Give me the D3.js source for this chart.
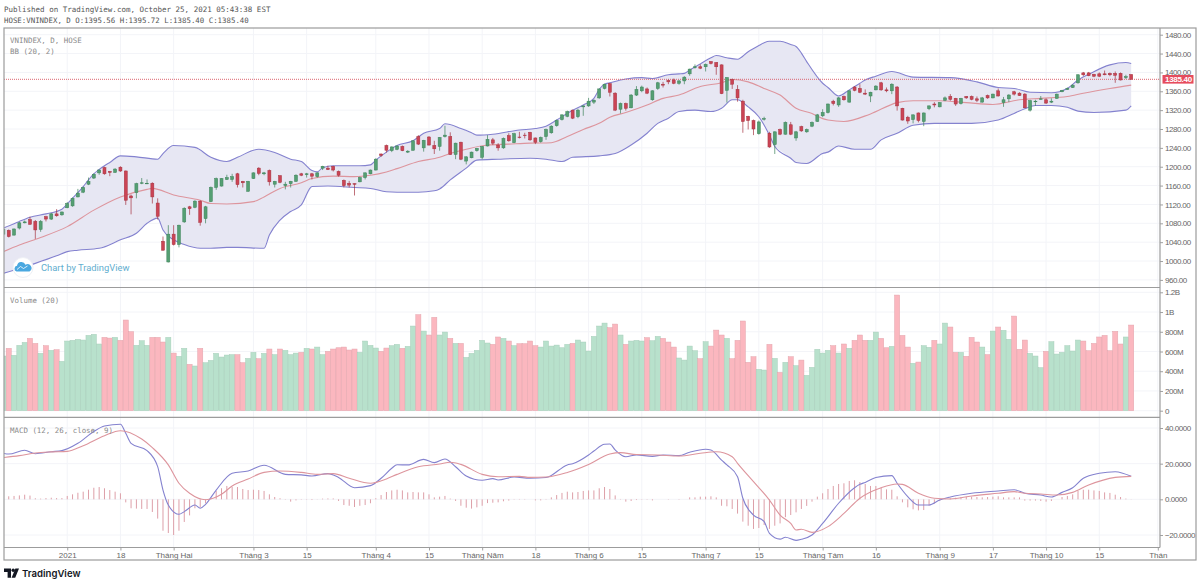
<!DOCTYPE html>
<html>
<head>
<meta charset="utf-8">
<title>VNINDEX</title>
<script src="https://cdn.jsdelivr.net/npm/d3@7"></script>
<style>
html, body { margin: 0; padding: 0; background: #fff; }
svg { display: block; }
.head { font-family: "DejaVu Sans Mono", monospace; fill: #555; }
.legend { font-family: "DejaVu Sans Mono", monospace; font-size: 7.45px; fill: #8a8a8a; }
.axis text { font-family: "Liberation Sans", sans-serif; font-size: 8px; fill: #666; letter-spacing: -0.45px; }
.timeAxis text { letter-spacing: 0; }
.axis path, .axis line { stroke: #a0a0a0; }
</style>
</head>
<body>
<div id="chart"></div>
<script>
// Global variables

var width = 1200, height = 584;

// one row per session: open, high, low, close
var candles = [
[1057,1069,1055,1067],[1065,1067,1050,1052],[1055,1069,1054,1068],[1070,1083,1067,1081],[1081,1086,1080,1083],
[1088,1094,1077,1078],[1084,1087,1047,1066],[1067,1087,1062,1084],[1094,1096,1084,1089],[1089,1102,1087,1100],
[1100,1110,1094,1096],[1098,1105,1096,1104],[1113,1125,1112,1122],[1117,1135,1115,1133],[1136,1153,1135,1144],
[1146,1158,1144,1156],[1163,1177,1161,1169],[1176,1186,1174,1184],[1187,1194,1183,1193],[1198,1200,1183,1185],
[1190,1191,1180,1188],[1188,1197,1187,1195],[1199,1201,1189,1191],[1191,1192,1119,1129],[1138,1141,1099,1134],
[1145,1166,1133,1164],[1165,1176,1163,1166],[1164,1173,1163,1165],[1165,1167,1122,1136],[1123,1133,1088,1095],
[1042,1052,1022,1023],[998,1076,997,1057],[1057,1076,1033,1035],[1035,1077,1029,1076],[1083,1114,1081,1112],
[1115,1117,1098,1111],[1114,1129,1112,1127],[1127,1129,1075,1082],[1090,1117,1080,1115],[1126,1158,1125,1156],
[1156,1177,1151,1175],[1159,1176,1158,1175],[1173,1183,1172,1177],[1173,1185,1168,1179],[1185,1187,1156,1162],
[1169,1170,1156,1166],[1148,1170,1147,1169],[1175,1188,1174,1187],[1197,1199,1182,1186],[1185,1189,1182,1187],
[1192,1194,1160,1168],[1163,1170,1156,1169],[1181,1182,1165,1167],[1160,1168,1152,1163],[1164,1170,1156,1169],
[1169,1184,1168,1182],[1185,1187,1180,1182],[1183,1187,1177,1185],[1185,1187,1173,1180],[1179,1188,1177,1187],
[1197,1202,1193,1201],[1197,1202,1193,1194],[1201,1202,1190,1193],[1190,1192,1179,1182],[1171,1173,1156,1160],
[1165,1170,1156,1161],[1164,1165,1139,1163],[1168,1179,1167,1177],[1177,1188,1173,1187],[1185,1194,1184,1193],
[1193,1218,1192,1216],[1227,1228,1221,1224],[1245,1247,1230,1235],[1234,1243,1231,1242],[1237,1245,1235,1244],
[1243,1245,1233,1234],[1231,1235,1229,1233],[1235,1256,1234,1255],[1264,1267,1246,1248],[1240,1257,1232,1256],
[1263,1265,1245,1246],[1245,1255,1227,1238],[1243,1263,1234,1262],[1264,1287,1262,1267],[1264,1273,1225,1226],
[1226,1251,1216,1250],[1252,1253,1214,1216],[1212,1222,1205,1221],[1219,1232,1218,1231],[1234,1240,1232,1239],
[1220,1244,1216,1243],[1244,1267,1243,1258],[1257,1261,1246,1250],[1246,1250,1234,1240],[1240,1262,1238,1260],
[1266,1271,1253,1255],[1251,1272,1250,1270],[1263,1274,1260,1262],[1267,1272,1260,1266],[1273,1274,1255,1257],
[1261,1262,1248,1252],[1253,1264,1251,1262],[1264,1281,1257,1279],[1272,1288,1270,1286],[1287,1300,1285,1298],
[1300,1311,1298,1310],[1307,1319,1305,1317],[1320,1321,1301,1303],[1306,1323,1303,1320],[1327,1330,1308,1329],
[1329,1346,1327,1339],[1337,1343,1333,1341],[1346,1366,1344,1365],[1366,1376,1364,1375],[1376,1378,1349,1358],
[1356,1358,1318,1320],[1322,1336,1313,1334],[1334,1336,1319,1324],[1325,1354,1324,1352],[1352,1371,1350,1364],
[1361,1372,1358,1369],[1365,1368,1354,1356],[1342,1362,1340,1361],[1366,1380,1363,1378],[1375,1380,1368,1373],
[1383,1385,1375,1380],[1384,1387,1375,1377],[1377,1384,1374,1382],[1382,1392,1375,1390],[1397,1408,1393,1407],
[1410,1417,1408,1412],[1412,1417,1407,1409],[1412,1419,1402,1417],[1423,1424,1417,1419],[1421,1422,1395,1412],
[1416,1417,1354,1355],[1362,1390,1336,1389],[1385,1387,1365,1375],[1364,1373,1338,1346],[1339,1342,1272,1296],
[1307,1308,1279,1298],[1298,1300,1267,1280],[1270,1298,1268,1295],[1301,1306,1298,1302],[1271,1274,1240,1242],
[1247,1275,1227,1274],[1279,1281,1267,1269],[1269,1296,1268,1294],[1289,1295,1267,1269],[1261,1276,1255,1274],
[1285,1287,1274,1276],[1274,1281,1272,1279],[1286,1296,1284,1294],[1296,1312,1295,1310],[1308,1322,1305,1315],
[1315,1334,1313,1333],[1339,1342,1330,1334],[1331,1348,1327,1346],[1349,1351,1340,1342],[1337,1362,1336,1361],
[1369,1371,1360,1362],[1366,1375,1356,1358],[1356,1364,1352,1354],[1350,1359,1337,1358],[1363,1373,1362,1371],
[1378,1380,1361,1363],[1363,1368,1358,1361],[1361,1377,1354,1375],[1369,1371,1319,1329],[1324,1325,1298,1299],
[1305,1308,1291,1297],[1300,1311,1292,1310],[1314,1315,1294,1298],[1296,1315,1286,1314],[1323,1330,1320,1329],
[1333,1337,1326,1331],[1327,1337,1326,1336],[1341,1349,1339,1346],[1349,1354,1340,1343],[1345,1346,1329,1333],
[1334,1346,1332,1345],[1349,1350,1344,1346],[1349,1351,1341,1343],[1344,1349,1337,1341],[1337,1348,1336,1346],
[1351,1353,1344,1346],[1346,1355,1345,1354],[1361,1366,1349,1350],[1336,1348,1327,1342],[1344,1354,1337,1352],
[1359,1361,1351,1354],[1356,1358,1350,1351],[1354,1356,1324,1325],[1320,1342,1317,1340],[1338,1342,1329,1339],
[1343,1350,1342,1344],[1342,1345,1333,1335],[1337,1345,1335,1339],[1345,1355,1344,1354],[1359,1363,1358,1362],
[1364,1368,1363,1366],[1368,1375,1367,1373],[1378,1396,1376,1395],[1399,1401,1392,1395],[1399,1401,1392,1393],
[1396,1397,1390,1392],[1397,1400,1390,1392],[1397,1404,1394,1395],[1398,1400,1392,1395],[1398,1402,1378,1394],
[1398,1400,1383,1384],[1389,1395,1386,1391],[1395.56,1395.72,1385.40,1385.40]
];

// millions of shares, one per session
var volumes = [
554,632,561,662,692,733,682,581,659,611,618,500,706,713,723,716,763,774,676,743,
736,743,713,919,801,662,709,662,743,743,696,743,584,551,632,470,453,632,486,510,
581,544,564,568,568,486,530,591,527,581,625,568,625,611,568,584,591,632,625,645,
568,601,625,638,645,615,625,591,706,662,635,601,635,659,672,632,652,858,973,807,
767,946,767,797,733,682,682,540,581,611,713,686,672,747,733,706,659,679,679,706,
659,645,706,655,665,638,672,682,716,696,605,753,858,888,841,878,767,672,706,713,
706,740,709,753,733,696,645,534,513,655,608,527,699,655,817,767,733,527,713,909,
490,547,419,412,672,530,388,490,547,456,513,358,439,622,584,611,659,584,676,632,
713,767,713,713,797,733,638,652,1172,763,645,480,493,659,642,713,676,888,848,591,
591,551,743,696,645,568,807,848,814,723,959,622,716,581,554,436,601,699,574,591,
659,605,716,706,608,682,747,763,608,804,676,747,868
];

var macdHist = [
0,1.7,1.9,2.2,2.6,2.1,0.6,0.4,0.7,0.9,0.7,0.7,1.9,2.8,3.7,4.3,5.4,6.5,6.9,6.2,
5.2,4.3,3.4,-1.7,-5,-5.2,-5.4,-5.4,-7.1,-10.8,-17.6,-18.9,-20,-17.6,-12.7,-9,-5,-4.5,-2.2,0.6,
4.7,6.2,7.5,6.9,6.9,5.8,5.2,5.4,5.2,4.7,2.8,1.3,0.6,-0.2,-1.3,-0.6,-0.2,-0.2,-0.4,0.1,
0.4,0.5,0.5,-0.9,-3.2,-3.6,-4.3,-3.6,-3.2,-2.2,0.6,2.4,4.1,5,5.4,5,3.9,4.1,3.9,3.9,
2.8,1.1,1.5,1.9,0.4,-0.9,-3.6,-4.7,-5.2,-4.5,-3.6,-2.1,-1.9,-1.7,-1.1,-0.7,0.2,0.2,0.2,0,
-0.6,-0.6,0.2,1.1,2.4,3.6,4.3,3.9,4.1,4.7,5,5,6.2,6.9,5.8,2.2,0.2,-1.3,-0.9,-0.4,
-0.2,-0.2,-0.6,0,0,-0.2,0,-0.2,0,1.1,1.1,1.5,1.5,1.7,1.1,-3.6,-3.9,-5.4,-8,-12.5,
-14.8,-16.6,-16.1,-14.4,-16.6,-14.8,-13.5,-10,-8.8,-7.3,-5.4,-3.7,-1.3,1.5,3.4,5.8,7.5,8.6,9,10.3,
10.7,9.7,8.6,7.5,7.5,6.5,5.6,5.4,1.7,-1.7,-4.5,-5.6,-6.2,-6,-3.6,-2.4,-0.9,0.2,0.6,0.9,
1.3,1.5,1.5,1.3,1.1,1.3,1.5,1.7,1.1,1.1,1.1,1.1,-0.7,-0.7,-0.7,-0.9,-1.3,-0.9,0,1.3,
1.9,2.8,4.7,5.4,5.4,5,4.7,3.9,3.6,2.6,1.3,0.4,0.1
];

// line series as [session, value]
var bbUpper = [
[0,1070],[2,1079],[3,1084],[5,1093],[8,1100],[11,1110],[12,1121],[13,1133],[14,1145],[15,1158],[16,1172],[17,1185],[18,1194],[19,1202],[20,1209],[22,1223],
[25,1221],[29,1216],[30,1228],[32,1245],[36,1241],[39,1220],[42,1211],[44,1220],[48,1237],[51,1230],[54,1216],[56,1211],[58,1192],[59,1189],[60,1198],[62,1202],
[67,1202],[69,1204],[70,1214],[72,1231],[74,1245],[77,1255],[79,1271],[82,1281],[83,1291],[86,1281],[88,1272],[89,1267],[92,1269],[97,1278],[100,1281],[102,1286],
[104,1299],[107,1320],[109,1331],[111,1345],[112,1364],[113,1375],[114,1378],[117,1386],[120,1389],[122,1387],[125,1395],[127,1397],[128,1398],[129,1405],[131,1418],
[133,1431],[134,1436],[136,1431],[138,1428],[140,1444],[142,1457],[143,1463],[144,1466],[146,1466],[148,1459],[149,1455],[150,1441],[151,1423],[154,1377],[155,1368],
[157,1350],[159,1363],[161,1377],[162,1384],[164,1392],[167,1402],[171,1390],[178,1389],[183,1380],[187,1368],[190,1366],[193,1358],[197,1357],[200,1366],[202,1384],
[204,1396],[208,1416],[211,1421],[212,1419]
];
var bbBasis = [
[0,1020],[3,1034],[7,1050],[12,1073],[17,1108],[22,1136],[27,1152],[28,1154],[32,1140],[37,1129],[39,1122],[42,1121],[47,1126],[49,1136],[52,1154],[56,1166],
[58,1175],[62,1180],[66,1179],[69,1182],[72,1189],[74,1196],[78,1211],[82,1220],[84,1228],[87,1237],[91,1246],[95,1248],[99,1250],[103,1251],[106,1264],[109,1279],
[112,1292],[114,1305],[117,1315],[121,1331],[124,1345],[127,1352],[131,1370],[135,1378],[137,1385],[140,1380],[143,1366],[146,1352],[149,1324],[152,1313],[154,1302],
[155,1299],[158,1296],[163,1312],[168,1336],[171,1340],[176,1340],[181,1336],[186,1332],[191,1342],[195,1345],[200,1349],[203,1356],[208,1366],[212,1373]
];
var bbLower = [
[0,974],[3,984],[6,995],[10,1011],[12,1020],[14,1023],[18,1027],[22,1045],[25,1059],[27,1080],[29,1091],[30,1066],[32,1045],[34,1035],[37,1027],[39,1027],
[42,1029],[44,1029],[49,1027],[50,1055],[52,1087],[54,1105],[56,1119],[58,1158],[61,1159],[66,1156],[69,1154],[72,1147],[74,1146],[78,1146],[81,1149],[82,1153],
[84,1172],[87,1197],[89,1214],[93,1216],[99,1218],[102,1216],[105,1211],[107,1220],[112,1223],[115,1228],[118,1246],[121,1271],[123,1292],[125,1303],[127,1317],
[130,1320],[133,1317],[135,1324],[137,1342],[138,1342],[140,1327],[142,1306],[144,1267],[145,1243],[148,1218],[149,1209],[151,1207],[154,1228],[155,1231],[157,1244],
[160,1237],[163,1237],[165,1257],[168,1271],[171,1288],[175,1292],[182,1292],[187,1299],[190,1313],[192,1323],[194,1330],[197,1330],[200,1326],[202,1318],[205,1315],
[211,1320],[212,1329]
];
var macdLine = [
[0,25.8],[1,25.4],[4,27.5],[6,25.6],[9,26.7],[11,27.3],[14,31.4],[17,38],[19,41.1],[22,42.1],[23,37],[24,31.4],[27,27.3],[29,18.3],[30,5.2],[31,-3.2],[33,-8.4],
[34,-6.9],[36,-3.2],[37,-5],[38,-2.8],[40,5.2],[43,14.6],[46,15.9],[49,19.1],[53,14],[56,13.7],[58,13.1],[61,14.4],[63,12.3],[66,6.5],[69,7.7],[71,11.8],[73,17.4],
[74,19.4],[76,19.3],[79,22.4],[81,20.6],[83,22.6],[85,18.3],[87,13.1],[90,10.7],[92,11.6],[93,10.8],[96,12.5],[99,11.8],[102,12.2],[106,19.3],[107,20],[110,24.9],
[111,27.1],[113,30.9],[114,31],[115,27.7],[117,23.9],[119,24.9],[122,24.1],[124,24.9],[127,24.5],[129,26.4],[132,28.1],[133,27.7],[135,22],[136,19.3],[138,12.7],
[139,0.6],[141,-8.8],[143,-12.5],[144,-19.1],[146,-22.3],[147,-21.3],[149,-23],[150,-22.4],[152,-20],[154,-13.5],[157,-2.2],[160,6.5],[161,8.4],[162,9.5],[164,12.2],
[167,13.3],[168,9],[170,1.5],[172,-3.2],[174,-3.2],[176,-0.4],[178,1.3],[182,3.4],[187,4.7],[190,5.4],[192,3.4],[195,2.4],[197,1.3],[199,3.9],[201,6.5],[203,11.8],
[206,14.6],[209,15.5],[212,12.9]
];
var macdSignal = [
[0,23.4],[3,24.5],[6,26],[9,26.6],[12,26.9],[15,30.1],[19,35.7],[22,38.5],[26,33.8],[28,29],[31,19.3],[33,9],[35,3.4],[38,-0.2],[41,2.8],[43,7.5],[46,11.4],[49,15.1],
[52,15.9],[56,15.1],[59,14],[62,14.4],[65,11.8],[69,9],[72,11.4],[74,14],[78,18.3],[82,19.8],[84,20.8],[86,19.6],[90,14],[93,12.7],[97,12.9],[99,12.3],[102,12.5],
[106,15.1],[110,19.6],[114,25.4],[116,26.2],[119,25.1],[123,24.9],[127,24.3],[131,25.8],[134,26.7],[137,23.9],[138,20.2],[141,9.9],[144,-0.4],[146,-8.8],[148,-13.5],
[149,-17.2],[150,-16.8],[152,-18.5],[155,-15.3],[158,-7.9],[161,0.6],[165,6.5],[168,8.6],[169,8.4],[172,3.4],[175,0.6],[178,0.2],[182,1.9],[187,3.4],[190,4.3],[192,3.4],
[195,3],[198,2.4],[201,3.9],[204,8],[209,12.3],[212,12.9]
];

var priceTicks = [960,1000,1040,1080,1120,1160,1200,1240,1280,1320,1360,1400,1440,1480];
var volumeTicks = [0,200,400,600,800,1000,1200];
var volumeLabels = ["0","200M","400M","600M","800M","1B","1.2B"];
var macdTicks = [-20,0,20,40];
var timeTicks = [12,22,32,47,57,70,80,90,100,110,120,132,142,154,164,176,186,196,206,217];
var timeLabels = ["2021","18","Tháng Hai","Tháng 3","15","Tháng 4","15","Tháng Năm","18","Tháng 6","15","Tháng 7","15","Tháng Tám","16","Tháng 9","17","Tháng 10","15","Thán"];
var lastClose = 1385.40;

var plotLeft = 4, plotRight = 1160, frameRight = 1196;
var priceTop = 28, priceBottom = 287.5, volumeBottom = 417.3, macdBottom = 547.5, frameBottom = 560;

var upColor = "#559f73", upEdge = "#3c8359", downColor = "#cb4455", downEdge = "#a5323f";
var bandColor = "#8482cf", basisColor = "#dd959d";

var x = d3.scaleLinear().domain([0, 212]).range([3.4, 1131.2]);
var yPrice = d3.scaleLinear().domain([960, 1480]).range([279.9, 34.7]);
var yVolume = d3.scaleLinear().domain([0, 1200]).range([410.7, 292.3]);
var yMacd = d3.scaleLinear().domain([-20, 40]).range([535, 428]);

var svg = d3.select("#chart").append("svg").attr("width", width).attr("height", height);

svg.append("clipPath").attr("id", "plotClip").append("rect")
    .attr("x", plotLeft).attr("y", priceTop).attr("width", plotRight - plotLeft).attr("height", macdBottom - priceTop);

function drawHeader()
{
    svg.append("text").attr("class", "head").attr("x", 4).attr("y", 12).style("font-size", "7.5px")
        .text("Published on TradingView.com, October 25, 2021 05:43:38 EST");
    svg.append("text").attr("class", "head").attr("x", 4).attr("y", 23).style("font-size", "7.4px")
        .text("HOSE:VNINDEX, D O:1395.56 H:1395.72 L:1385.40 C:1385.40");
    svg.append("text").attr("class", "legend").attr("x", 10).attr("y", 43).text("VNINDEX, D, HOSE");
    svg.append("text").attr("class", "legend").attr("x", 10).attr("y", 54).text("BB (20, 2)");
    svg.append("text").attr("class", "legend").attr("x", 10).attr("y", 303).text("Volume (20)");
    svg.append("text").attr("class", "legend").attr("x", 10).attr("y", 432.5).text("MACD (12, 26, close, 9)");
}

function drawGrid()
{
    var grid = svg.append("g").attr("stroke", "#f3f4f8").attr("stroke-width", 1);
    var rows = priceTicks.map(yPrice).concat(volumeTicks.map(yVolume)).concat(macdTicks.map(yMacd));
    grid.selectAll(".row").data(rows).enter().append("line").attr("class", "row")
        .attr("x1", plotLeft).attr("x2", plotRight).attr("y1", function(d) { return d; }).attr("y2", function(d) { return d; });
    grid.selectAll(".col").data(timeTicks).enter().append("line").attr("class", "col")
        .attr("y1", priceTop).attr("y2", macdBottom).attr("x1", function(d) { return x(d); }).attr("x2", function(d) { return x(d); });
}

function drawBands()
{
    var g = svg.append("g").attr("clip-path", "url(#plotClip)");
    var ringLine = d3.line().x(function(d) { return x(d[0]); }).y(function(d) { return yPrice(d[1]); });
    var line = ringLine.curve ? d3.line().x(function(d) { return x(d[0]); }).y(function(d) { return yPrice(d[1]); }).curve(d3.curveMonotoneX) : ringLine;
    var ring = bbUpper.concat(bbLower.slice().reverse());
    g.append("path").attr("d", ringLine(ring) + "Z").attr("fill", "#e7e7f3");
    g.append("path").attr("d", line(bbUpper)).attr("fill", "none").attr("stroke", bandColor).attr("stroke-width", 1.1);
    g.append("path").attr("d", line(bbLower)).attr("fill", "none").attr("stroke", bandColor).attr("stroke-width", 1.1);
    g.append("path").attr("d", line(bbBasis)).attr("fill", "none").attr("stroke", basisColor).attr("stroke-width", 1.1);
    g.append("line").attr("x1", plotLeft).attr("x2", plotRight).attr("y1", yPrice(lastClose)).attr("y2", yPrice(lastClose))
        .attr("stroke", "#dc6470").attr("stroke-width", 1).attr("stroke-dasharray", "1,1");
}

function drawCandles()
{
    var g = svg.append("g").attr("clip-path", "url(#plotClip)");
    var rows = g.selectAll(".candle").data(candles).enter().append("g").attr("class", "candle");
    rows.append("line")
        .attr("x1", function(d, i) { return x(i); }).attr("x2", function(d, i) { return x(i); })
        .attr("y1", function(d) { return yPrice(d[1]); }).attr("y2", function(d) { return yPrice(d[2]); })
        .attr("stroke", function(d) { return d[3] >= d[0] ? upEdge : downEdge; }).attr("stroke-width", 0.7);
    rows.append("rect")
        .attr("x", function(d, i) { return x(i) - 1.5; }).attr("width", 3)
        .attr("y", function(d) { return yPrice(Math.max(d[0], d[3])); })
        .attr("height", function(d) { return Math.max(0.6, Math.abs(yPrice(d[0]) - yPrice(d[3]))); })
        .attr("fill", function(d) { return d[3] >= d[0] ? upColor : downColor; })
        .attr("stroke", function(d) { return d[3] >= d[0] ? upEdge : downEdge; }).attr("stroke-width", 0.5);
}

function drawVolume()
{
    var g = svg.append("g").attr("clip-path", "url(#plotClip)");
    g.selectAll(".vol").data(volumes).enter().append("rect").attr("class", "vol")
        .attr("x", function(d, i) { return x(i) - 2.55; }).attr("width", 5.1)
        .attr("y", function(d) { return yVolume(d); })
        .attr("height", function(d) { return yVolume(0) - yVolume(d); })
        .attr("fill", function(d, i) { return candles[i][3] >= candles[i][0] ? "#b8e1cc" : "#fbb7bf"; })
        .attr("stroke", function(d, i) { return candles[i][3] >= candles[i][0] ? "#a6cdb9" : "#e3a4ac"; })
        .attr("stroke-width", 0.5);
}

function drawMacd()
{
    var g = svg.append("g").attr("clip-path", "url(#plotClip)");
    g.selectAll(".hist").data(macdHist).enter().append("line").attr("class", "hist")
        .attr("x1", function(d, i) { return x(i); }).attr("x2", function(d, i) { return x(i); })
        .attr("y1", yMacd(0)).attr("y2", function(d) { return yMacd(d); })
        .attr("stroke", "#dd9fa8").attr("stroke-width", 1);
    var line = d3.line().x(function(d) { return x(d[0]); }).y(function(d) { return yMacd(d[1]); }).curve(d3.curveMonotoneX);
    g.append("path").attr("d", line(macdLine)).attr("fill", "none").attr("stroke", bandColor).attr("stroke-width", 1.1);
    g.append("path").attr("d", line(macdSignal)).attr("fill", "none").attr("stroke", basisColor).attr("stroke-width", 1.1);
}

function drawAxes()
{
    svg.append("g").attr("class", "axis").attr("transform", "translate(" + plotRight + ",0)")
        .call(d3.axisRight(yPrice).tickValues(priceTicks).tickSize(3).tickPadding(2).tickFormat(d3.format(".2f")));
    svg.append("g").attr("class", "axis").attr("transform", "translate(" + plotRight + ",0)")
        .call(d3.axisRight(yVolume).tickValues(volumeTicks).tickSize(3).tickPadding(2)
            .tickFormat(function(d, i) { return volumeLabels[i]; }));
    svg.append("g").attr("class", "axis").attr("transform", "translate(" + plotRight + ",0)")
        .call(d3.axisRight(yMacd).tickValues(macdTicks).tickSize(3).tickPadding(2).tickFormat(d3.format(".4f")));
    var time = svg.append("g").attr("class", "axis timeAxis").attr("transform", "translate(0," + macdBottom + ")")
        .call(d3.axisBottom(x).tickValues(timeTicks).tickSize(3).tickPadding(2)
            .tickFormat(function(d, i) { return timeLabels[i]; }));
    time.selectAll("path").remove();
    svg.selectAll(".axis path").attr("stroke", "none").style("stroke", "none");
}

function drawFrame()
{
    var g = svg.append("g").attr("stroke", "#9c9c9c").attr("fill", "none");
    g.append("rect").attr("x", plotLeft).attr("y", priceTop).attr("width", frameRight - plotLeft).attr("height", frameBottom - priceTop).attr("stroke-width", 1.2);
    [priceBottom, volumeBottom, macdBottom].forEach(function(y) {
        g.append("line").attr("x1", plotLeft).attr("x2", plotRight).attr("y1", y).attr("y2", y).attr("stroke-width", 1.2);
    });
    g.append("line").attr("x1", plotRight).attr("x2", plotRight).attr("y1", priceTop).attr("y2", macdBottom).attr("stroke-width", 1.2);
}

function drawPriceTag()
{
    var y = yPrice(lastClose);
    svg.append("rect").attr("x", 1162.5).attr("y", y - 4.3).attr("width", 31).attr("height", 8.6).attr("fill", "#e64c5d");
    svg.append("text").attr("x", 1165).attr("y", y + 2.9).attr("fill", "#fff")
        .style("font-family", "Liberation Sans, sans-serif").style("font-size", "8px").style("font-weight", "bold").style("letter-spacing", "-0.3px")
        .text(d3.format(".2f")(lastClose));
}

function drawBranding()
{
    // little cloud badge inside the price pane
    svg.append("circle").attr("cx", 23).attr("cy", 267.5).attr("r", 10).attr("fill", "#fff").attr("stroke", "#eef0f5");
    svg.append("path").attr("d", "M16.5 271.5a3 3 0 0 1 .5-5.8a4.5 4.5 0 0 1 8.5-1a3.4 3.4 0 0 1 4 6.8z").attr("fill", "#4aa8e0");
    svg.append("path").attr("d", "M17 269.5l3.5-3l3 2l4-2.5").attr("fill", "none").attr("stroke", "#fff").attr("stroke-width", 0.8);
    svg.append("text").attr("x", 41).attr("y", 271).attr("fill", "#62aecf")
        .style("font-family", "Roboto, sans-serif").style("font-size", "9.4px").text("Chart by TradingView");

    // footer logo
    svg.append("path").attr("d", "M4 568.5h7v9.2h-3.4v-5.6H4z").attr("fill", "#131722");
    svg.append("circle").attr("cx", 13.2).attr("cy", 570.2).attr("r", 1.7).attr("fill", "#131722");
    svg.append("path").attr("d", "M19 568.5l-3.8 9.2h-3.6l3.8-9.2z").attr("fill", "#131722");
    svg.append("text").attr("x", 22).attr("y", 577).attr("fill", "#131722")
        .style("font-family", "Inter, sans-serif").style("font-size", "9.6px").style("font-weight", "600").text("TradingView");
}

drawGrid();
drawBands();
drawCandles();
drawVolume();
drawMacd();
drawAxes();
drawFrame();
drawHeader();
drawPriceTag();
drawBranding();
</script>
</body>
</html>
